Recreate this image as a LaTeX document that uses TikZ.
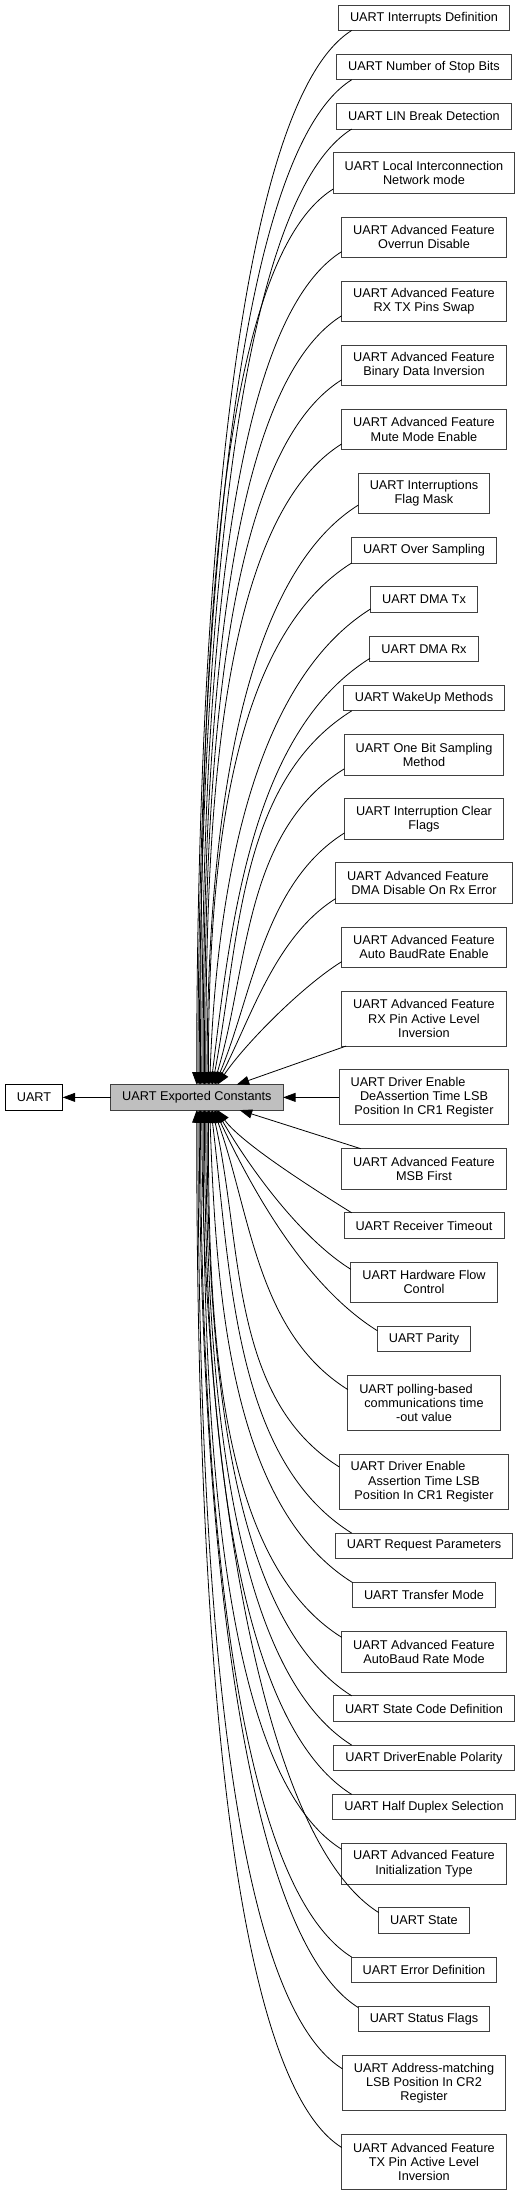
\documentclass[tikz,border=0pt]{standalone}
\usepackage{fontspec}
\setmainfont{Liberation Sans}
\usetikzlibrary{arrows.meta,positioning}
\definecolor{groupgray}{HTML}{BFBFBF}
\definecolor{boxline}{HTML}{404040}

\begin{document}
\begin{tikzpicture}[x=1pt, y=1pt, node distance=23.8pt,
    every node/.style={font=\fontsize{12.7}{14.3}\selectfont},
    grp/.style={draw=boxline, line width=0.9pt, fill=white, outer sep=0pt, inner xsep=11.5pt, inner ysep=2pt, align=center},
    oneline/.style={grp, minimum height=25.5pt},
    twoline/.style={grp, minimum height=40.3pt},
    threeline/.style={grp, minimum height=55pt},
    edge/.style={draw=black, line width=0.8pt, -{Triangle[length=12.5pt,width=9pt]}}]
      \useasboundingbox (0,0) rectangle (521,2201);
      \node[oneline, anchor=north] (intdef) at (424,2196) {UART Interrupts Definition};
      \node[oneline, below=of intdef] (stopbits) {UART Number of Stop Bits};
      \node[oneline, below=of stopbits] (linbrk) {UART LIN Break Detection};
      \node[twoline, below=of linbrk] (linmode) {UART Local Interconnection\\Network mode};
      \node[twoline, below=of linmode] (ovrdis) {UART Advanced Feature\\Overrun Disable};
      \node[twoline, below=of ovrdis] (swap) {UART Advanced Feature\\RX TX Pins Swap};
      \node[twoline, below=of swap] (datainv) {UART Advanced Feature\\Binary Data Inversion};
      \node[twoline, below=of datainv] (mute) {UART Advanced Feature\\Mute Mode Enable};
      \node[twoline, below=of mute] (itmask) {UART Interruptions\\Flag Mask};
      \node[oneline, below=of itmask] (ovsamp) {UART Over Sampling};
      \node[oneline, below=of ovsamp] (dmatx) {UART DMA Tx};
      \node[oneline, below=of dmatx] (dmarx) {UART DMA Rx};
      \node[oneline, below=of dmarx] (wakeup) {UART WakeUp Methods};
      \node[twoline, below=of wakeup] (onebit) {UART One Bit Sampling\\Method};
      \node[twoline, below=of onebit] (itclr) {UART Interruption Clear\\Flags};
      \node[twoline, below=of itclr] (dmadis) {UART Advanced Feature\hspace*{12pt}\\DMA Disable On Rx Error};
      \node[twoline, below=of dmadis] (abren) {UART Advanced Feature\\Auto BaudRate Enable};
      \node[threeline, below=of abren] (rxinv) {UART Advanced Feature\\RX Pin Active Level\hspace*{24pt}\\Inversion};
      \node[threeline, below=of rxinv] (deat) {UART Driver Enable\hspace*{32pt}\\DeAssertion Time LSB\\Position In CR1 Register};
      \node[twoline, below=of deat] (msb) {UART Advanced Feature\\MSB First};
      \node[oneline, below=of msb] (rto) {UART Receiver Timeout};
      \node[twoline, below=of rto] (hwfc) {UART Hardware Flow\\Control};
      \node[oneline, below=of hwfc] (parity) {UART Parity};
      \node[threeline, below=of parity] (tout) {UART polling-based\hspace*{16pt}\\communications time\\-out value};
      \node[threeline, below=of tout] (asst) {UART Driver Enable\hspace*{32pt}\\Assertion Time LSB\hspace*{21pt}\\Position In CR1 Register};
      \node[oneline, below=of asst] (req) {UART Request Parameters};
      \node[oneline, below=of req] (xfer) {UART Transfer Mode};
      \node[twoline, below=of xfer] (abrmod) {UART Advanced Feature\\AutoBaud Rate Mode};
      \node[oneline, below=of abrmod] (stcode) {UART State Code Definition};
      \node[oneline, below=of stcode] (depol) {UART DriverEnable Polarity};
      \node[oneline, below=of depol] (hdsel) {UART Half Duplex Selection};
      \node[twoline, below=of hdsel] (inittype) {UART Advanced Feature\\Initialization Type};
      \node[oneline, below=of inittype] (state) {UART State};
      \node[oneline, below=of state] (errdef) {UART Error Definition};
      \node[oneline, below=of errdef] (status) {UART Status Flags};
      \node[threeline, below=of status] (addr) {UART Address-matching\\LSB Position In CR2\hspace*{17pt}\\Register};
      \node[threeline, below=of addr] (txinv) {UART Advanced Feature\\TX Pin Active Level\hspace*{26pt}\\Inversion};
      \node[oneline, fill=groupgray, left=56pt of deat] (exp) {UART Exported Constants};
      \node[oneline, draw=black, left=48pt of exp] (uart) {UART};
      \draw[edge] (exp) -- (uart);
      \draw[edge] (deat) -- (exp);
      \draw[edge] (rxinv) -- ([xshift=126pt]exp.north west);
      \draw[edge] (msb) -- ([xshift=129pt]exp.south west);
      \draw[edge] (intdef.190) .. controls +(212:150pt) and +(90:400pt) .. ([xshift=86pt]exp.north west);
      \draw[edge] (stopbits.190) .. controls +(212:150pt) and +(90:382pt) .. ([xshift=87.3pt]exp.north west);
      \draw[edge] (linbrk.190) .. controls +(212:150pt) and +(90:364pt) .. ([xshift=88.6pt]exp.north west);
      \draw[edge] (linmode.190) .. controls +(212:150pt) and +(90:340pt) .. ([xshift=89.9pt]exp.north west);
      \draw[edge] (ovrdis.190) .. controls +(212:150pt) and +(90:316pt) .. ([xshift=91.2pt]exp.north west);
      \draw[edge] (swap.190) .. controls +(212:150pt) and +(90:292pt) .. ([xshift=92.5pt]exp.north west);
      \draw[edge] (datainv.190) .. controls +(212:150pt) and +(90:268pt) .. ([xshift=93.8pt]exp.north west);
      \draw[edge] (mute.190) .. controls +(212:150pt) and +(90:243pt) .. ([xshift=95.1pt]exp.north west);
      \draw[edge] (itmask.190) .. controls +(212:150pt) and +(90:219pt) .. ([xshift=96.4pt]exp.north west);
      \draw[edge] (ovsamp.190) .. controls +(212:150pt) and +(90:200pt) .. ([xshift=97.7pt]exp.north west);
      \draw[edge] (dmatx.190) .. controls +(212:145pt) and +(88:181pt) .. ([xshift=99pt]exp.north west);
      \draw[edge] (dmarx.190) .. controls +(212:140pt) and +(83:162pt) .. ([xshift=100.3pt]exp.north west);
      \draw[edge] (wakeup.190) .. controls +(212:135pt) and +(79:144pt) .. ([xshift=101.6pt]exp.north west);
      \draw[edge] (onebit.190) .. controls +(212:120pt) and +(73:120pt) .. ([xshift=102.9pt]exp.north west);
      \draw[edge] (itclr.190) .. controls +(212:96pt) and +(67:96pt) .. ([xshift=104.2pt]exp.north west);
      \draw[edge] (dmadis.190) .. controls +(212:72pt) and +(62:72pt) .. ([xshift=105.5pt]exp.north west);
      \draw[edge] (abren.190) .. controls +(212:48pt) and +(56:48pt) .. ([xshift=106.8pt]exp.north west);
      \draw[edge] (rto.170) .. controls +(148:40pt) and +(-54:42pt) .. ([xshift=106.8pt]exp.south west);
      \draw[edge] (hwfc.170) .. controls +(148:62pt) and +(-60:62pt) .. ([xshift=105.5pt]exp.south west);
      \draw[edge] (parity.170) .. controls +(148:86pt) and +(-65:86pt) .. ([xshift=104.2pt]exp.south west);
      \draw[edge] (tout.170) .. controls +(148:108pt) and +(-70:108pt) .. ([xshift=102.9pt]exp.south west);
      \draw[edge] (asst.170) .. controls +(148:130pt) and +(-77:136pt) .. ([xshift=101.6pt]exp.south west);
      \draw[edge] (req.170) .. controls +(148:140pt) and +(-83:162pt) .. ([xshift=100.3pt]exp.south west);
      \draw[edge] (xfer.170) .. controls +(148:145pt) and +(-88:181pt) .. ([xshift=99pt]exp.south west);
      \draw[edge] (abrmod.170) .. controls +(148:150pt) and +(-90:201pt) .. ([xshift=97.7pt]exp.south west);
      \draw[edge] (stcode.170) .. controls +(148:150pt) and +(-90:224pt) .. ([xshift=96.4pt]exp.south west);
      \draw[edge] (depol.170) .. controls +(148:150pt) and +(-90:243pt) .. ([xshift=95.1pt]exp.south west);
      \draw[edge] (hdsel.170) .. controls +(148:150pt) and +(-90:261pt) .. ([xshift=93.8pt]exp.south west);
      \draw[edge] (inittype.170) .. controls +(148:150pt) and +(-90:282pt) .. ([xshift=92.5pt]exp.south west);
      \draw[edge] (state.170) .. controls +(148:150pt) and +(-90:307pt) .. ([xshift=91.2pt]exp.south west);
      \draw[edge] (errdef.170) .. controls +(148:150pt) and +(-90:324pt) .. ([xshift=89.9pt]exp.south west);
      \draw[edge] (status.170) .. controls +(148:150pt) and +(-90:342pt) .. ([xshift=88.6pt]exp.south west);
      \draw[edge] (addr.170) .. controls +(148:150pt) and +(-90:366pt) .. ([xshift=87.3pt]exp.south west);
      \draw[edge] (txinv.170) .. controls +(148:150pt) and +(-90:396pt) .. ([xshift=86pt]exp.south west);
    \end{tikzpicture}
\end{document}
